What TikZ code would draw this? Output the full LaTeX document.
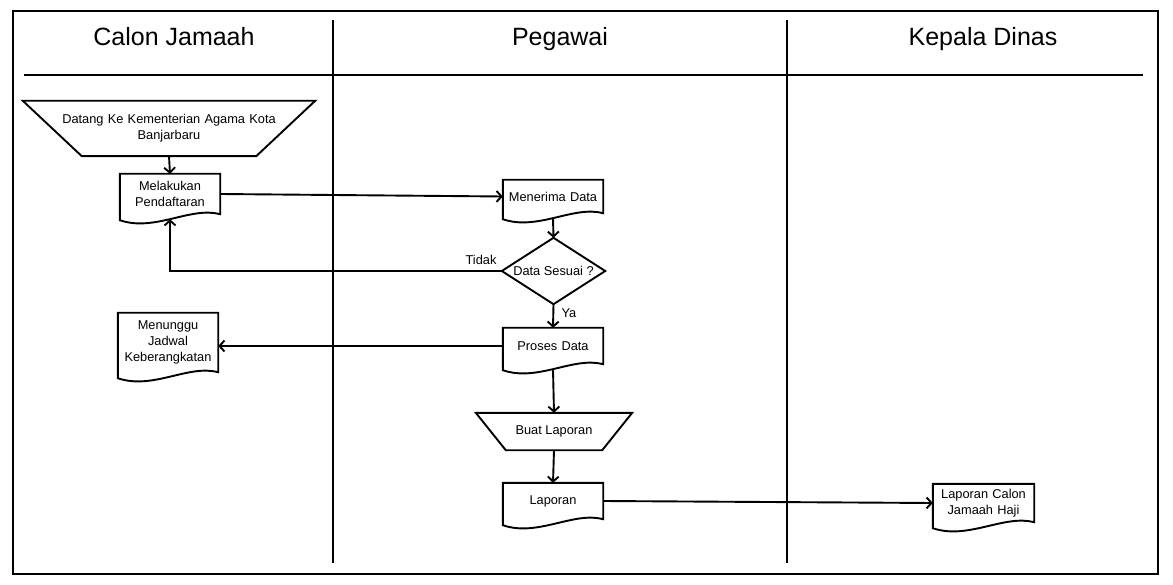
\documentclass[tikz,border=0pt]{standalone}
\usepackage{fontspec}
\setmainfont{Liberation Sans}
\usetikzlibrary{calc,arrows.meta}
\def\dokumen[#1](#2){\draw[#1] (#2.north west) -- (#2.north east) -- (#2.south east) .. controls ($(#2.south east)+(-30,-8)$) and ($(#2.south west)+(35,18)$) .. ($(#2.south west)+(0,6)$) -- cycle;}
\def\trapesium[#1](#2)(#3){\draw[#1] (#2.north west) -- (#2.north east) -- ($(#2.south east)+(-#3,0)$) -- ($(#2.south west)+(#3,0)$) -- cycle;}
\def\belah[#1](#2){\draw[#1] (#2.north) -- (#2.east) -- (#2.south) -- (#2.west) -- cycle;}

\begin{document}
\begin{tikzpicture}[x=1pt, y=-1pt,
		garis/.style={line width=1.9pt},
		panah/.style={garis, -{Straight Barb[length=5pt,width=11pt]}},
		teks/.style={font=\fontsize{12.8}{16}\selectfont, align=center, inner sep=0pt},
		kotak/.style={teks, minimum width=100pt, text width=97pt},
		judul/.style={font=\fontsize{25}{30}\selectfont, anchor=base}]
		%%%%% START %%%%%
		
		\useasboundingbox (0,0) rectangle (1173,585);
		
		\draw[garis] (13,11) rectangle (1158,574);
		\draw[garis] (24,75) -- (1143,75);
		\draw[garis] (333,20) -- (333,563);
		\draw[garis] (787,20) -- (787,563);
		
		\node[judul] (calon) at (174,46) {Calon Jamaah};
		\node[judul] (pegawai) at (560,46) {Pegawai};
		\node[judul] (kadis) at (983,46) {Kepala Dinas};
		
		\node[teks, minimum width=292pt, minimum height=55pt, text width=250pt] (datang) at (169,128.5) {Datang Ke Kementerian Agama Kota\\Banjarbaru};
		\trapesium[garis](datang)(59);
		
		\node[kotak, minimum height=40pt] (daftar) at (170,194) {Melakukan\\Pendaftaran};
		\dokumen[garis](daftar);
		
		\node[kotak, minimum height=59pt] (tunggu) at (168,342.5) {Menunggu\\Jadwal\\Keberangkatan};
		\dokumen[garis](tunggu);
		
		\node[kotak, minimum height=33pt] (terima) at (553,196.5) {Menerima Data};
		\dokumen[garis](terima);
		
		\node[teks, minimum width=103pt, minimum height=66pt] (sesuai) at (553.5,271) {Data Sesuai ?};
		\belah[garis](sesuai);
		
		\node[kotak, minimum height=36pt] (proses) at (553,346) {Proses Data};
		\dokumen[garis](proses);
		
		\node[teks, minimum width=156pt, minimum height=37pt] (buat) at (554,431.5) {Buat Laporan};
		\trapesium[garis](buat)(30);
		
		\node[kotak, minimum height=36pt] (laporan) at (553,501) {Laporan};
		\dokumen[garis](laporan);
		
		\node[kotak, minimum width=101pt, minimum height=38pt] (lapcalon) at (983.5,503) {Laporan Calon\\Jamaah Haji};
		\dokumen[garis](lapcalon);
		
		\node[teks] (tidak) at (481,260) {Tidak};
		\node[teks] (ya) at (569,313) {Ya};
		
		\draw[panah] (datang.south) -- (daftar.north);
		\draw[panah] (daftar.east) -- (terima.west);
		\draw[panah] ($(terima.south)+(0,5)$) -- (sesuai.north);
		\draw[panah] (sesuai.west) -| ($(daftar.south)+(0,5)$);
		\draw[panah] (sesuai.south) -- (proses.north);
		\draw[panah] (proses.west) -- (proses.west -| tunggu.east);
		\draw[panah] ($(proses.south)+(0,5)$) -- (buat.north);
		\draw[panah] (buat.south) -- (laporan.north);
		\draw[panah] (laporan.east) -- (lapcalon.west);
		
		%%%%% END %%%%%
\end{tikzpicture}
\end{document}
